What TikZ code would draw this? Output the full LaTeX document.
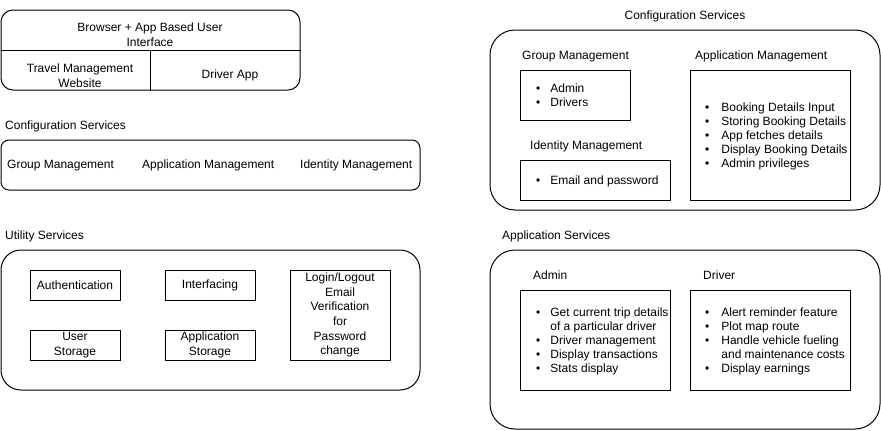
\documentclass[tikz,border=0pt]{standalone}
\usepackage{fontspec}
\setmainfont{Liberation Sans}
\newcommand\mybl[2]{\begin{tabular}{@{}l@{\hspace{#1}}l@{}}#2\end{tabular}}
\begin{document}
\begin{tikzpicture}[x=1pt,y=-1pt,
  txt/.style={font=\fontsize{12}{14}\selectfont, inner sep=0pt, text=black},
  ctxt/.style={font=\fontsize{12}{14.6}\selectfont, inner sep=0pt, text=black, align=center},
  lbl/.style={txt, anchor=base west},
  cont/.style={draw=black, line width=1pt, inner sep=0pt},
  box/.style={draw=black, line width=1pt, inner sep=0pt, ctxt},
  lst/.style={txt, anchor=north west}
]
\useasboundingbox (0,0) rectangle (881,431);

% ---- top-left UI box
\node[cont, rounded corners=12pt, minimum width=299, minimum height=80] (ui) at (150.5,50) {};
\draw[line width=1pt] (ui.west) -- (ui.east);
\draw[line width=1pt] (ui.center) -- (ui.south);
\node[ctxt, font=\fontsize{12}{15}\selectfont] (uih) at (150,35) {Browser + App Based User\\Interface};
\node[ctxt, font=\fontsize{12}{15}\selectfont] (tmw) at (80,75.5) {Travel Management\\Website};
\node[txt] (dapp) at (230,75) {Driver App};

% ---- left configuration services
\node[lbl] (lcsl) at (5,129.3) {Configuration Services};
\node[cont, rounded corners=8pt, minimum width=419, minimum height=50] (lcs) at (210.5,165) {};
\node[lbl] (lgm) at (7,168.5) {Group Management};
\node[lbl] (lam) at (142,168.5) {Application Management};
\node[lbl] (lim) at (300,168.5) {Identity Management};

% ---- utility services
\node[lbl] (usl) at (5,239.3) {Utility Services};
\node[cont, rounded corners=20pt, minimum width=419, minimum height=140] (us) at (210.5,320) {};
\node[box, minimum width=90, minimum height=30] (auth) at (75,285) {Authentication};
\node[box, minimum width=90, minimum height=30] (intf) at (210,285) {Interfacing};
\node[box, minimum width=100, minimum height=90] (login) at (340,315) {Login/Logout\\Email\\Verification\\for\\Password\\change};
\node[box, minimum width=90, minimum height=30] (ust) at (75,345) {User\\Storage};
\node[box, minimum width=90, minimum height=30] (ast) at (210,345) {Application\\Storage};

% ---- right configuration services
\node[txt] (rcsl) at (685,16) {Configuration Services};
\node[cont, rounded corners=25pt, minimum width=390, minimum height=180] (rcs) at (685,120) {};
\node[lbl] (gml) at (522,59.3) {Group Management};
\node[box, minimum width=110, minimum height=50] (gm) at (575,95) {};
\node[lst] (gmi) at (536,82.5) {\mybl{10pt}{\textbullet & Admin\\ \textbullet & Drivers}};
\node[lbl] (iml) at (530,149.3) {Identity Management};
\node[box, minimum width=150, minimum height=40] (im) at (595,180) {};
\node[lst] (imi) at (536,174.5) {\mybl{10pt}{\textbullet & Email and password}};
\node[lbl] (aml) at (695,59.3) {Application Management};
\node[box, minimum width=160, minimum height=130] (am) at (770,135) {};
\node[lst] (ami) at (705,101.5) {\mybl{12pt}{\textbullet & Booking Details Input\\ \textbullet & Storing Booking Details\\ \textbullet & App fetches details\\ \textbullet & Display Booking Details\\ \textbullet & Admin privileges}};

% ---- application services
\node[lbl] (asl) at (502,239.3) {Application Services};
\node[cont, rounded corners=25pt, minimum width=390, minimum height=179] (as) at (685,339.5) {};
\node[lbl] (adl) at (533,279.3) {Admin};
\node[box, minimum width=150, minimum height=100] (ad) at (595,340) {};
\node[lst] (adi) at (536,306.5) {\mybl{10pt}{\textbullet & Get current trip details\\ & of a particular driver\\ \textbullet & Driver management\\ \textbullet & Display transactions\\ \textbullet & Stats display}};
\node[lbl] (drl) at (703,279.3) {Driver};
\node[box, minimum width=160, minimum height=100] (dr) at (770,340) {};
\node[lst] (dri) at (705,306.5) {\mybl{12pt}{\textbullet & Alert reminder feature\\ \textbullet & Plot map route\\ \textbullet & Handle vehicle fueling\\ & and maintenance costs\\ \textbullet & Display earnings}};
\end{tikzpicture}
\end{document}
